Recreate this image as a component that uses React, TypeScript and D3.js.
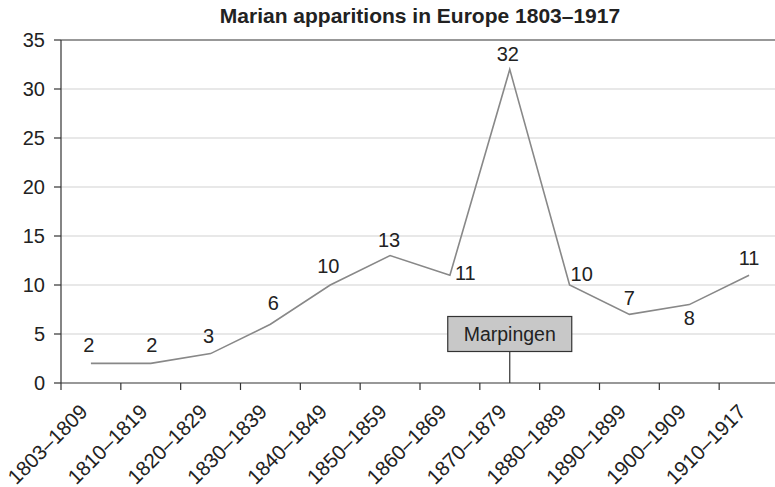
import * as d3 from 'd3'

const width = 775
const height = 487
const margin = { top: 40, right: -4, bottom: 104, left: 61 }

const decades = [
  '1803–1809', '1810–1819', '1820–1829', '1830–1839', '1840–1849', '1850–1859',
  '1860–1869', '1870–1879', '1880–1889', '1890–1899', '1900–1909', '1910–1917',
]
const apparitions = [2, 2, 3, 6, 10, 13, 11, 32, 10, 7, 8, 11]
const yTicks = [0, 5, 10, 15, 20, 25, 30, 35]
const marker = { decade: '1870–1879', label: 'Marpingen' }

// where each value label sits relative to its point
const labelPos: [number, number, string][] = [
  [-2, -11, 'middle'], [1, -11, 'middle'], [-2, -11, 'middle'], [3, -14, 'middle'],
  [-2, -12, 'middle'], [-1, -9, 'middle'], [5, 5, 'start'], [-2, -8, 'middle'],
  [1, -4, 'start'], [0, -9, 'middle'], [0, 20, 'middle'], [0, -10, 'middle'],
]

export default function App() {
  const x = d3.scaleBand().domain(decades).range([margin.left, width - margin.right])
  const y = d3.scaleLinear().domain([0, 35]).range([height - margin.bottom, margin.top])
  const cx = (d: string) => x(d)! + x.bandwidth() / 2
  const line = d3.line<number>().x((_, i) => cx(decades[i])).y((v) => y(v))
  const font = 'Liberation Sans, Arial, Helvetica, sans-serif'
  const y0 = y(0)
  const mx = cx(marker.decade)

  return (
    <svg width={width} height={height} style={{ position: 'absolute', left: 0, top: 0, fontFamily: font }}>
      <text x={(margin.left + width - margin.right) / 2} y={23} textAnchor="middle"
        fontSize={21} fontWeight="bold" fill="#222">
        Marian apparitions in Europe 1803–1917
      </text>
      {yTicks.slice(1, -1).map((t) => (
        <line key={t} x1={margin.left} x2={width} y1={y(t)} y2={y(t)} stroke="#e0e0e0" strokeWidth={1.5} />
      ))}
      <line x1={margin.left} x2={width} y1={y(35)} y2={y(35)} stroke="#333" strokeWidth={1.2} />
      {yTicks.map((t) => (
        <g key={t}>
          <line x1={margin.left - 7} x2={margin.left} y1={y(t)} y2={y(t)} stroke="#333" strokeWidth={1.2} />
          <text x={margin.left - 16} y={y(t)} dy="0.36em" textAnchor="end" fontSize={20} fill="#222">{t}</text>
        </g>
      ))}
      <line x1={margin.left} x2={margin.left} y1={y(35)} y2={y0} stroke="#333" strokeWidth={1.2} />
      <line x1={margin.left} x2={width} y1={y0} y2={y0} stroke="#333" strokeWidth={1.2} />
      {decades.map((d) => (
        <line key={d} x1={x(d)!} x2={x(d)!} y1={y0} y2={y0 + 7} stroke="#333" strokeWidth={1.2} />
      ))}
      {decades.map((d) => (
        <text key={d} transform={`translate(${cx(d) - 2},${y0 + 30}) rotate(-45)`}
          textAnchor="end" fontSize={20.5} fill="#222">{d}</text>
      ))}
      <line x1={mx} x2={mx} y1={351.7} y2={y0} stroke="#333" strokeWidth={1.2} />
      <rect x={mx - 62} y={316.5} width={124} height={35} fill="#c8c8c8" stroke="#333" strokeWidth={1.2} />
      <text x={mx} y={334} dy="0.36em" textAnchor="middle" fontSize={19.5} fill="#222">{marker.label}</text>
      <path d={line(apparitions)!} fill="none" stroke="#888" strokeWidth={1.6} />
      {apparitions.map((v, i) => (
        <text key={i} x={cx(decades[i]) + labelPos[i][0]} y={y(v) + labelPos[i][1]}
          textAnchor={labelPos[i][2]} fontSize={20} fill="#222">{v}</text>
      ))}
    </svg>
  )
}
